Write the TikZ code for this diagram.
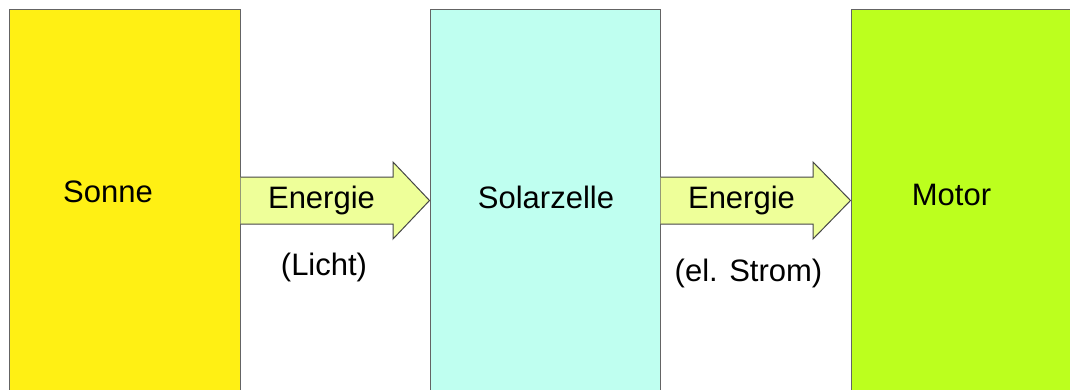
\documentclass[tikz,border=0pt]{standalone}
\usepackage{fontspec}
\setmainfont{Liberation Sans}
\definecolor{sunY}{RGB}{255,240,20}
\definecolor{cellC}{RGB}{191,255,240}
\definecolor{motG}{RGB}{188,255,30}
\definecolor{arrY}{RGB}{238,255,153}
\definecolor{edgeG}{RGB}{100,100,100}
\begin{document}
\begin{tikzpicture}[x=1pt,y=-1pt,
  box/.style={draw=edgeG,line width=1pt,rectangle,inner sep=0pt},
  bigarrow/.style={draw=edgeG!70!black,line width=1pt,fill=arrY,line join=miter},
  lbl/.style={font=\fontsize{31}{37}\selectfont,inner sep=0pt,anchor=base}]
\useasboundingbox (0,0) rectangle (1070,389);
\begin{scope}
\clip (0,0) rectangle (1070,389);
\node[box,fill=sunY,minimum width=231pt,minimum height=420pt] (sonne) at (124.5,219) {};
\node[box,fill=cellC,minimum width=230pt,minimum height=420pt] (solar) at (545,219) {};
\node[box,fill=motG,minimum width=250pt,minimum height=420pt] (motor) at (976,219) {};
\end{scope}
\draw[bigarrow] (sonne.east |- 0,177) -- (393,177) -- (393,162) -- (solar.west |- 0,200.5)
  -- (393,239) -- (393,224) -- (sonne.east |- 0,224);
\draw[bigarrow] (solar.east |- 0,177) -- (813,177) -- (813,162) -- (motor.west |- 0,200.5)
  -- (813,239) -- (813,224) -- (solar.east |- 0,224);
\node[lbl] (tsonne) at (108,202) {Sonne};
\node[lbl] (tsolar) at (546,208) {Solarzelle};
\node[lbl] (tmotor) at (951.5,205) {Motor};
\node[lbl] (e1) at (321.5,208) {Energie};
\node[lbl] (l1) at (324,275) {(Licht)};
\node[lbl] (e2) at (741.5,208) {Energie};
\node[lbl] (l2) at (748.5,281) {(el. Strom)};
\end{tikzpicture}
\end{document}
